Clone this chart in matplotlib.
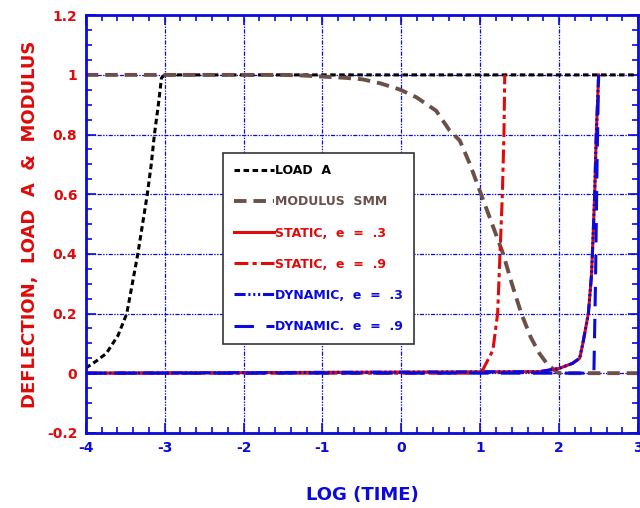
import matplotlib.pyplot as plt
import numpy as np

plt.rcParams['font.family'] = 'DejaVu Sans'
plt.rcParams['font.weight'] = 'bold'
plt.rcParams['lines.scale_dashes'] = False

RED = '#e00a0a'
BLUE = '#0a0adc'
BROWN = '#6b5049'

# log(time) vs normalised response
load_x = [-4.0, -3.87, -3.74, -3.59, -3.48, -3.41, -3.34, -3.28, -3.22, -3.17, -3.13, -3.08, -3.04, -3.0, 3.0]
load_y = [0.017, 0.04, 0.066, 0.127, 0.2, 0.3, 0.4, 0.5, 0.6, 0.7, 0.8, 0.9, 0.99, 1.0, 1.0]

mod_x = [-4.0, -1.5, -1.25, -0.7, -0.49, -0.27, -0.02, 0.19, 0.44, 0.61, 0.74, 0.87, 1.01, 1.15, 1.29,
         1.4, 1.52, 1.64, 1.75, 1.85, 1.94, 2.0, 3.0]
mod_y = [1.0, 1.0, 0.998, 0.99, 0.985, 0.972, 0.951, 0.925, 0.88, 0.814, 0.78, 0.7, 0.6, 0.5, 0.4,
         0.3, 0.2, 0.12, 0.066, 0.03, 0.01, 0.0, 0.0]

static3_x = [-4.0, 1.75, 2.0, 2.17, 2.26, 2.30, 2.37, 2.41, 2.43, 2.45, 2.47, 2.50]
static3_y = [0.0, 0.005, 0.016, 0.033, 0.05, 0.10, 0.2, 0.33, 0.46, 0.6, 0.8, 1.0]

static9_x = [-4.0, 0.9, 1.03, 1.16, 1.22, 1.25, 1.28, 1.30, 1.31]
static9_y = [0.0, 0.0, 0.01, 0.077, 0.2, 0.4, 0.6, 0.8, 1.0]

dyn3_x = [-4.0, 1.75, 2.0, 2.17, 2.26, 2.30, 2.37, 2.41, 2.43, 2.45, 2.47, 2.50]
dyn3_y = [0.0, 0.005, 0.016, 0.033, 0.05, 0.10, 0.2, 0.33, 0.46, 0.6, 0.8, 1.0]

dyn9_x = [-4.0, 2.44, 2.46, 2.48, 2.50]
dyn9_y = [0.0, 0.0, 0.3, 0.7, 1.0]

fig = plt.figure(figsize=(6.4, 5.08), dpi=100)
ax = fig.add_axes([0.134, 0.148, 0.863, 0.822])

ax.plot(load_x, load_y, color='black', lw=2.2, dashes=(4, 2.5), label='LOAD  A')
ax.plot(mod_x, mod_y, color=BROWN, lw=2.8, dashes=(9, 5), label='MODULUS  SMM')
ax.plot(static3_x, static3_y, color=RED, lw=2.2, label='STATIC,  e  =  .3')
ax.plot(static9_x, static9_y, color=RED, lw=2.2, dashes=(10, 3, 3, 3), label='STATIC,  e  =  .9')
ax.plot(dyn3_x, dyn3_y, color=BLUE, lw=2.2, dashes=(8, 2, 1.5, 2, 1.5, 2, 1.5, 2), label='DYNAMIC,  e  =  .3')
ax.plot(dyn9_x, dyn9_y, color=BLUE, lw=2.2, dashes=(14, 9), label='DYNAMIC.  e  =  .9')

ax.set_xlim(-4, 3)
ax.set_ylim(-0.2, 1.2)
ax.set_xticks(np.arange(-4, 3.1, 1))
ax.set_xticks(np.arange(-4, 3.01, 0.2), minor=True)
ax.set_yticks(np.arange(-0.2, 1.21, 0.2))
ax.set_yticks(np.arange(-0.2, 1.21, 0.05), minor=True)
ax.set_xticklabels(['-4', '-3', '-2', '-1', '0', '1', '2', '3'])
ax.set_yticklabels(['-0.2', '0', '0.2', '0.4', '0.6', '0.8', '1', '1.2'])

ax.grid(True, which='major', color=BLUE, lw=0.9, dashes=(3, 1, 1, 1, 1, 1))
ax.tick_params(which='both', direction='in', top=True, right=True, color=BLUE, width=1.2)
ax.tick_params(which='major', length=7)
ax.tick_params(which='minor', length=4)
ax.tick_params(axis='x', colors=BLUE, labelsize=10, pad=6)
ax.tick_params(axis='y', colors=RED, labelsize=10, pad=6)
ax.tick_params(axis='both', which='both', color=BLUE)
for s in ax.spines.values():
    s.set_color(BLUE)
    s.set_linewidth(2)

ax.set_xlabel('LOG (TIME)', color=BLUE, fontsize=13, fontweight='bold', labelpad=22)
ax.set_ylabel('DEFLECTION,  LOAD  A  &  MODULUS', color=RED, fontsize=13, fontweight='bold', labelpad=6)

leg = ax.legend(loc='upper left', bbox_to_anchor=(0.248, 0.67), fontsize=9, handlelength=3.2,
                handletextpad=0.1, labelspacing=1.45, borderpad=0.9, borderaxespad=0,
                fancybox=False, framealpha=1, edgecolor='#333333')
leg.get_frame().set_linewidth(1.2)
for txt, c in zip(leg.get_texts(), ['black', BROWN, RED, RED, BLUE, BLUE]):
    txt.set_color(c)

fig.savefig('out.png', dpi=100)
